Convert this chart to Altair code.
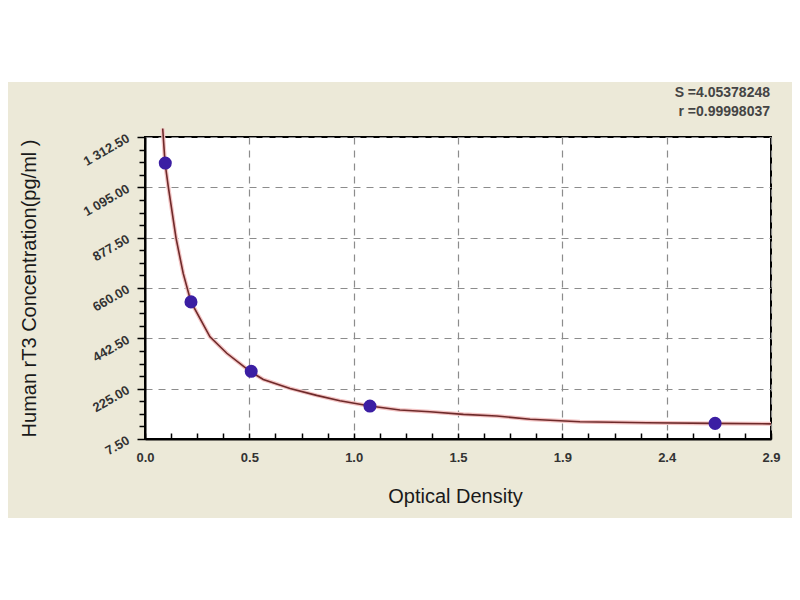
import altair as alt
import pandas as pd

# ---- data ----
curve_od = [0.082, 0.093, 0.108, 0.144, 0.177, 0.213, 0.301, 0.379, 0.479, 0.494,
            0.548, 0.672, 0.795, 0.903, 1.042, 1.181, 1.320, 1.475, 1.629, 1.784,
            2.015, 2.324, 2.633, 2.900]
curve_conc = [1349, 1199, 1097, 874, 723, 600, 449, 378, 305, 296,
              265, 226, 196, 173, 150, 133, 125, 114, 107, 93,
              82, 78, 75, 73]

std_od = [0.094, 0.213, 0.492, 1.042, 2.641]
std_conc = [1200, 600, 300, 150, 75]

x_ticks = [0.0, 2.9 / 6, 2 * 2.9 / 6, 3 * 2.9 / 6, 4 * 2.9 / 6, 5 * 2.9 / 6, 2.9]
x_tick_labels = ["0.0", "0.5", "1.0", "1.5", "1.9", "2.4", "2.9"]
y_ticks = [7.5, 225.0, 442.5, 660.0, 877.5, 1095.0, 1312.5]
y_tick_labels = ["7.50", "225.00", "442.50", "660.00", "877.50", "1 095.00", "1 312.50"]

stat_text = "S =4.05378248\nr =0.99998037"
x_title = "Optical Density"
y_title = "Human  rT3 Concentration(pg/ml )"

# minor tick positions (axis structure)
x_minor = [x_ticks[i] + (x_ticks[i + 1] - x_ticks[i]) * k / 4
           for i in range(len(x_ticks) - 1) for k in range(4)] + [x_ticks[-1]]
y_minor = [y_ticks[i] + (y_ticks[i + 1] - y_ticks[i]) * k / 4
           for i in range(len(y_ticks) - 1) for k in range(1, 4)]

W, H = 626, 302
FONT = "Liberation Sans"

curve_df = pd.DataFrame({"od": curve_od, "conc": curve_conc})
std_df = pd.DataFrame({"od": std_od, "conc": std_conc})

xscale = alt.Scale(domain=[0, 2.9], nice=False, zero=False)
yscale = alt.Scale(domain=[7.5, 1312.5], nice=False, zero=False)

x_label_expr = "[" + ",".join("'%s'" % s for s in x_tick_labels) + "][round(datum.value*6/2.9)]"
y_label_expr = "[" + ",".join("'%s'" % s for s in y_tick_labels) + "][round((datum.value-7.5)/217.5)]"

main_x_axis = alt.Axis(
    orient="bottom", values=x_ticks, labelExpr=x_label_expr,
    title=x_title, titleFont=FONT, titleFontSize=20, titleFontWeight="normal",
    titleColor="#1a1a1a", titleX=310, titleY=63, titleBaseline="alphabetic",
    titleAlign="center",
    grid=True, gridDash=[7, 6], gridColor="#8c8c8c", gridWidth=1.2,
    ticks=False, domainColor="black", domainWidth=2,
    labelFont=FONT, labelFontSize=13, labelFontWeight="bold", labelColor="#333333",
    labelPadding=12, labelOverlap=False, labelFlush=False,
)
main_y_axis = alt.Axis(
    orient="left", values=y_ticks, labelExpr=y_label_expr,
    title=y_title, titleFont=FONT, titleFontSize=20, titleFontWeight="normal",
    titleColor="#1a1a1a", titleX=-116, titleY=151, titleAngle=270,
    titleAlign="center", titleBaseline="middle",
    grid=True, gridDash=[7, 6], gridColor="#8c8c8c", gridWidth=1.2,
    ticks=True, tickSize=8, tickColor="black", tickWidth=1.5,
    domainColor="black", domainWidth=2,
    labelFont=FONT, labelFontSize=13, labelFontWeight="bold", labelColor="#333333",
    labelAngle=330, labelAlign="right", labelBaseline="middle", labelPadding=9,
    labelOverlap=False, labelFlush=False,
)
minor_x_axis = alt.Axis(
    orient="top", offset=-H, values=x_minor, labels=False, domain=False, grid=False,
    ticks=True, tickSize=6, tickColor="black", tickWidth=1.5, title=None,
)
minor_y_axis = alt.Axis(
    orient="left", values=y_minor, labels=False, domain=False, grid=False,
    ticks=True, tickSize=6, tickColor="black", tickWidth=1.5, title=None,
)

strip = alt.Chart(pd.DataFrame({"a": [0]})).mark_rect(color="white").encode(
    x=alt.value(-200), x2=alt.value(W + 200), y=alt.value(-200), y2=alt.value(-55)
)

halo = alt.Chart(curve_df).mark_line(color="#f3c4c4", strokeWidth=4, clip=False).encode(
    x=alt.X("od:Q", scale=xscale, axis=main_x_axis),
    y=alt.Y("conc:Q", scale=yscale, axis=main_y_axis),
)
line = alt.Chart(curve_df).mark_line(color="#6e2a2a", strokeWidth=1.6, clip=False).encode(
    x=alt.X("od:Q", scale=xscale, axis=minor_x_axis),
    y=alt.Y("conc:Q", scale=yscale, axis=minor_y_axis),
)
points = alt.Chart(std_df).mark_circle(size=170, color="#3b1ea3", opacity=1).encode(
    x=alt.X("od:Q", scale=xscale, axis=None),
    y=alt.Y("conc:Q", scale=yscale, axis=None),
)
stats = alt.Chart(pd.DataFrame({"a": [0]})).mark_text(
    text=stat_text, lineBreak="\n", lineHeight=19, align="right", baseline="middle",
    font=FONT, fontSize=14, fontWeight="bold", color="#444444",
).encode(x=alt.value(W - 1), y=alt.value(-44))

chart = alt.layer(strip, halo, line, points, stats).resolve_axis(
    x="independent", y="independent"
).properties(
    width=W, height=H,
    padding={"left": 137, "top": 129, "right": 21, "bottom": 79},
    autosize=alt.AutoSizeParams(type="none"),
    background="#ece9d8",
).configure_view(
    fill="white", stroke="black", strokeWidth=2
)

chart.save("out.html", embed_options={"renderer": "svg", "actions": False})
